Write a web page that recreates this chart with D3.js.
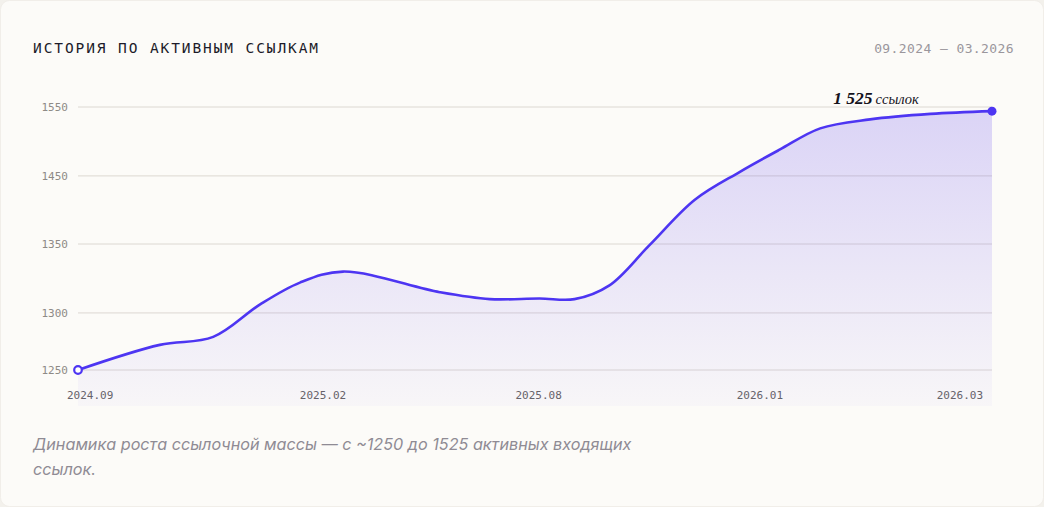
<!DOCTYPE html>
<html>
<head>
  <meta charset="utf-8">
  <title>История по активным ссылкам</title>
  <script src="https://cdn.jsdelivr.net/npm/d3@7"></script>
  <style>
    html, body { margin: 0; padding: 0; background: #f3f1ec; }
    svg { display: block; }
  </style>
</head>
<body>
  <svg width="1044" height="507" id="mainsvg"></svg>
  <script>
    // months since 2024.09 for each point, and active link count
    const months = [0, 1.67, 2.76, 3.71, 4.53, 5.56, 8.25, 9.64, 11.02, 11.81, 12.6, 13.5, 14.53, 15.55, 16.17, 16.52, 16.95, 17.47, 18];
    const links = [1250, 1272, 1279, 1306, 1322, 1330, 1315, 1310, 1310.5, 1310, 1320, 1349, 1415, 1456, 1488, 1519, 1532, 1540, 1544];

    const xTickMonths = [0, 5, 11, 16, 18];
    const xTickLabels = ['2024.09', '2025.02', '2025.08', '2026.01', '2026.03'];
    const yTicks = [1250, 1300, 1350, 1450, 1550];

    const svg = d3.select('svg');
    const width = +svg.attr('width');
    const height = +svg.attr('height');
    const margin = {top: 107, right: 52, bottom: 137, left: 78};
    const innerWidth = width - margin.left - margin.right;
    const innerHeight = height - margin.top - margin.bottom;

    const lineColor = '#4d35f2';

    // card
    svg.append('rect')
      .attr('x', 0.5).attr('y', 0.5)
      .attr('width', width - 1).attr('height', height - 1)
      .attr('rx', 9)
      .attr('fill', '#fcfbf8')
      .attr('stroke', '#f1eee9');

    // the axis labels are not evenly spaced, so both scales are piecewise
    const x = d3.scaleLinear()
      .domain(xTickMonths)
      .range([0, 0.268, 0.504, 0.746, 1].map(f => margin.left + f * innerWidth));

    const y = d3.scaleLinear()
      .domain(yTicks)
      .range([1, 0.783, 0.521, 0.262, 0].map(f => margin.top + f * innerHeight));

    const data = months.map((m, i) => ({m: m, v: links[i]}));

    // title + period
    svg.append('text')
      .attr('x', 33).attr('y', 53)
      .attr('font-family', 'DejaVu Sans Mono, monospace')
      .attr('font-size', 14.5)
      .attr('letter-spacing', 1.9)
      .attr('fill', '#1d1b2a')
      .text('ИСТОРИЯ ПО АКТИВНЫМ ССЫЛКАМ');

    svg.append('text')
      .attr('x', 1014).attr('y', 53)
      .attr('text-anchor', 'end')
      .attr('font-family', 'DejaVu Sans Mono, monospace')
      .attr('font-size', 13)
      .attr('letter-spacing', 0.4)
      .attr('fill', '#9a969c')
      .text('09.2024 — 03.2026');

    // gradient for area
    const defs = svg.append('defs');
    const grad = defs.append('linearGradient')
      .attr('id', 'areaGrad')
      .attr('gradientUnits', 'userSpaceOnUse')
      .attr('x1', 0).attr('x2', 0)
      .attr('y1', y(1550)).attr('y2', y(1250) + 36);
    grad.append('stop').attr('offset', 0).attr('stop-color', '#6a4ff0').attr('stop-opacity', 0.23);
    grad.append('stop').attr('offset', 1).attr('stop-color', '#6a4ff0').attr('stop-opacity', 0.03);

    // gridlines + y labels
    const grid = svg.append('g');
    grid.selectAll('line').data(yTicks).join('line')
      .attr('x1', x(0)).attr('x2', x(18))
      .attr('y1', d => y(d)).attr('y2', d => y(d))
      .attr('stroke', '#dcd8d2')
      .attr('stroke-width', 1);
    grid.selectAll('text').data(yTicks).join('text')
      .attr('x', margin.left - 10)
      .attr('y', d => y(d))
      .attr('dy', '0.35em')
      .attr('text-anchor', 'end')
      .attr('font-family', 'DejaVu Sans Mono, monospace')
      .attr('font-size', 11)
      .attr('fill', '#8e8a86')
      .text(d => d);

    // area + line
    const curve = d3.curveCatmullRom.alpha(0.5);
    const area = d3.area()
      .x(d => x(d.m))
      .y0(y(1250) + 36)
      .y1(d => y(d.v))
      .curve(curve);
    const line = d3.line()
      .x(d => x(d.m))
      .y(d => y(d.v))
      .curve(curve);

    svg.append('path')
      .datum(data)
      .attr('d', area)
      .attr('fill', 'url(#areaGrad)');

    svg.append('path')
      .datum(data)
      .attr('d', line)
      .attr('fill', 'none')
      .attr('stroke', lineColor)
      .attr('stroke-width', 2.6)
      .attr('stroke-linejoin', 'round')
      .attr('stroke-linecap', 'round');

    // end markers
    const first = data[0];
    const last = data[data.length - 1];
    svg.append('circle')
      .attr('cx', x(first.m)).attr('cy', y(first.v))
      .attr('r', 3.8)
      .attr('fill', '#ffffff')
      .attr('stroke', lineColor)
      .attr('stroke-width', 2.2);
    svg.append('circle')
      .attr('cx', x(last.m)).attr('cy', y(last.v))
      .attr('r', 4.5)
      .attr('fill', lineColor);

    // annotation
    const note = svg.append('text')
      .attr('x', x(last.m) - 116)
      .attr('y', y(1550) - 3)
      .attr('text-anchor', 'middle')
      .attr('font-family', 'Liberation Serif, DejaVu Serif, serif')
      .attr('font-style', 'italic')
      .attr('fill', '#14121c');
    note.append('tspan').attr('font-size', 17.5).attr('font-weight', 'bold').text('1 525');
    note.append('tspan').attr('font-size', 14.5).attr('dx', 3).text('ссылок');

    // x labels
    svg.append('g').selectAll('text').data(xTickMonths).join('text')
      .attr('x', (d, i) => i === 0 ? x(d) - 11 : i === xTickMonths.length - 1 ? x(d) - 9 : x(d))
      .attr('y', y(1250) + 29)
      .attr('text-anchor', (d, i) => i === 0 ? 'start' : i === xTickMonths.length - 1 ? 'end' : 'middle')
      .attr('font-family', 'DejaVu Sans Mono, monospace')
      .attr('font-size', 11)
      .attr('fill', '#66626a')
      .text((d, i) => xTickLabels[i]);

    // caption
    const caption = svg.append('text')
      .attr('x', 33)
      .attr('y', 450)
      .attr('font-family', 'Inter, Noto Sans, sans-serif')
      .attr('font-style', 'italic')
      .attr('font-size', 16.2)
      .attr('fill', '#8f8b94');
    caption.append('tspan').attr('x', 33).text('Динамика роста ссылочной массы — с ~1250 до 1525 активных входящих');
    caption.append('tspan').attr('x', 33).attr('dy', 25).text('ссылок.');
  </script>
</body>
</html>
